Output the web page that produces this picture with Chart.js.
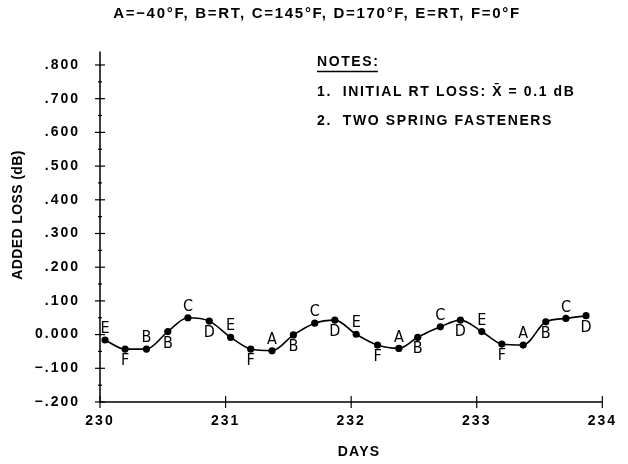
<!DOCTYPE html>
<html><head><meta charset="utf-8">
<script src="https://cdn.jsdelivr.net/npm/chart.js@4"></script>
<style>html,body{margin:0;padding:0;background:#fff}#wrap{width:628px;height:464px;position:relative}</style>
</head><body><div id="wrap"><canvas id="c" width="628" height="464"></canvas></div>
<script>
// ---- data ----
const days = [230.04, 230.20, 230.37, 230.54, 230.70, 230.87,
              231.04, 231.20, 231.37, 231.54, 231.71, 231.87,
              232.04, 232.21, 232.38, 232.53, 232.71, 232.87,
              233.04, 233.20, 233.37, 233.55, 233.71, 233.87];
const addedLoss = [-0.016, -0.043, -0.043, 0.009, 0.050, 0.040,
                   -0.008, -0.043, -0.048, -0.001, 0.034, 0.043,
                    0.001, -0.031, -0.041, -0.008, 0.023, 0.043,
                    0.009, -0.028, -0.031, 0.038, 0.048, 0.056];
const pointLetters = ['E','F','B','B','C','D',
                      'E','F','A','B','C','D',
                      'E','F','A','B','C','D',
                      'E','F','A','B','C','D'];
const yTickValues = [-0.2, -0.1, 0, 0.1, 0.2, 0.3, 0.4, 0.5, 0.6, 0.7, 0.8];
const yTickLabels = ['\u2212.200', '\u2212.100', '0.000', '.100', '.200', '.300', '.400', '.500', '.600', '.700', '.800'];
const xTickValues = [230, 231, 232, 233, 234];
const xTickLabels = ['230', '231', '232', '233', '234'];
const titleText = 'A=\u221240\u00b0F, B=RT, C=145\u00b0F, D=170\u00b0F, E=RT, F=0\u00b0F';
const noteHeader = 'NOTES:';
const noteLines = ['1.  INITIAL RT LOSS: X\u0304 = 0.1 dB', '2.  TWO SPRING FASTENERS'];
const yAxisTitle = 'ADDED LOSS (dB)';
const xAxisTitle = 'DAYS';

const INK = '#000';
const FONT = "'Liberation Sans', Arial, sans-serif";

const spacing = {
  id: 'spacing',
  beforeLayout(chart) { chart.ctx.letterSpacing = '2px'; },
  beforeDraw(chart) { chart.ctx.letterSpacing = '2px'; }
};

const extras = {
  id: 'extras',
  afterDraw(chart) {
    const ctx = chart.ctx;
    const xs = chart.scales.x, ys = chart.scales.y;
    const x0 = xs.getPixelForValue(230), x1 = xs.getPixelForValue(234);
    const yb = ys.getPixelForValue(-0.2), yt = chart.chartArea.top;
    ctx.save();
    ctx.strokeStyle = INK; ctx.fillStyle = INK; ctx.lineWidth = 1.5;
    // axis lines
    ctx.beginPath(); ctx.moveTo(x0, yt); ctx.lineTo(x0, yb); ctx.lineTo(x1, yb); ctx.stroke();
    // y ticks (major cross, minor small)
    ctx.lineWidth = 1.2;
    yTickValues.forEach(v => {
      const p = ys.getPixelForValue(v);
      ctx.beginPath(); ctx.moveTo(x0 - 5, p); ctx.lineTo(x0 + 5, p); ctx.stroke();
      if (v < 0.8) {
        const m = ys.getPixelForValue(v + 0.05);
        ctx.beginPath(); ctx.moveTo(x0 - 2, m); ctx.lineTo(x0 + 2, m); ctx.stroke();
      }
    });
    xTickValues.forEach(v => {
      const p = xs.getPixelForValue(v);
      ctx.beginPath(); ctx.moveTo(p, yb - 6); ctx.lineTo(p, yb + 6); ctx.stroke();
    });
    // point letters
    const meta = chart.getDatasetMeta(0);
    ctx.letterSpacing = '0px';
    ctx.font = "16px 'DejaVu Sans Condensed', 'DejaVu Sans', sans-serif";
    ctx.textAlign = 'center'; ctx.textBaseline = 'middle';
    meta.data.forEach((pt, i) => {
      const above = (i % 6) % 2 === 0;
      ctx.fillText(pointLetters[i], pt.x, pt.y + (above ? -11 : 12));
    });
    // title
    ctx.font = 'bold 15px ' + FONT;
    ctx.letterSpacing = '1.7px';
    ctx.textAlign = 'center';
    ctx.fillText(titleText, 317, 14);
    // notes
    ctx.font = 'bold 14px ' + FONT;
    ctx.letterSpacing = '1.6px';
    ctx.textAlign = 'left';
    ctx.fillText(noteHeader, 317, 62);
    const w = ctx.measureText(noteHeader).width - 1.6;
    ctx.lineWidth = 1.3;
    ctx.beginPath(); ctx.moveTo(317, 71.5); ctx.lineTo(317 + w, 71.5); ctx.stroke();
    ctx.fillText(noteLines[0], 317, 92);
    ctx.fillText(noteLines[1], 317, 121);
    // axis titles
    ctx.letterSpacing = '1.2px';
    ctx.textAlign = 'center';
    ctx.fillText(xAxisTitle, 359, 452);
    ctx.letterSpacing = '0.4px';
    ctx.translate(18, 215);
    ctx.rotate(-Math.PI / 2);
    ctx.fillText(yAxisTitle, 0, 0);
    ctx.restore();
  }
};

new Chart(document.getElementById('c'), {
  type: 'line',
  data: {
    datasets: [{
      data: days.map((d, i) => ({ x: d, y: addedLoss[i] })),
      borderColor: INK,
      borderWidth: 1.6,
      backgroundColor: INK,
      pointBackgroundColor: INK,
      pointBorderColor: INK,
      pointRadius: 3.6,
      pointBorderWidth: 0,
      cubicInterpolationMode: 'monotone',
      fill: false
    }]
  },
  options: {
    responsive: false,
    animation: false,
    devicePixelRatio: 1,
    layout: { padding: { top: 51.5, right: 17, left: 0, bottom: 0 } },
    plugins: { legend: { display: false }, tooltip: { enabled: false }, title: { display: false } },
    scales: {
      x: {
        type: 'linear', min: 230, max: 234,
        afterBuildTicks: s => { s.ticks = xTickValues.map(v => ({ value: v })); },
        afterFit: s => { s.height = 62; },
        grid: { display: false, drawTicks: false },
        border: { display: false },
        ticks: {
          color: INK, padding: 11, maxRotation: 0,
          font: { family: FONT, size: 14, weight: 'bold' },
          callback: (v) => xTickLabels[xTickValues.indexOf(v)]
        },
        title: { display: false }
      },
      y: {
        type: 'linear', min: -0.2, max: 0.84,
        afterBuildTicks: s => { s.ticks = yTickValues.map(v => ({ value: v })); },
        afterFit: s => { s.width = 100; },
        grid: { display: false, drawTicks: false },
        border: { display: false },
        ticks: {
          color: INK, padding: 20,
          font: { family: FONT, size: 14, weight: 'bold' },
          callback: (v) => yTickLabels[yTickValues.findIndex(t => Math.abs(t - v) < 1e-9)]
        },
        title: { display: false }
      }
    }
  },
  plugins: [spacing, extras]
});
</script></body></html>
